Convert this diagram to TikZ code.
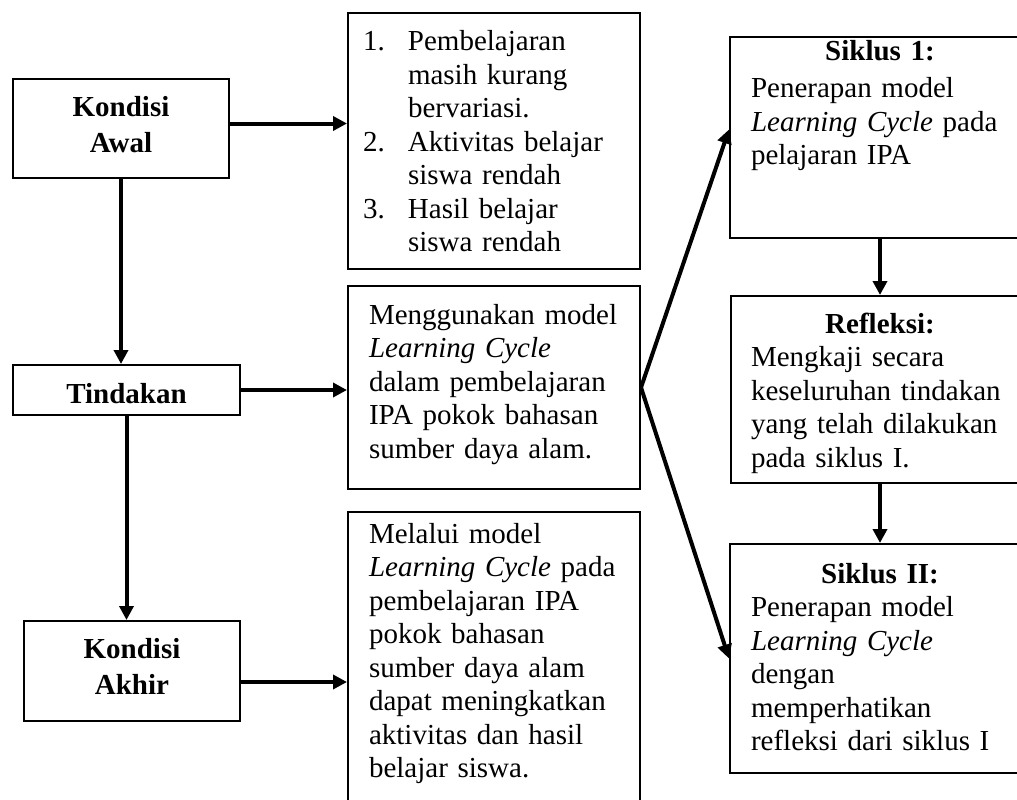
\documentclass[tikz,border=0pt]{standalone}
\usepackage{fontspec}
\setmainfont{Liberation Serif}
\usetikzlibrary{arrows.meta}

\begin{document}
\begin{tikzpicture}[x=1pt,y=-1pt,
    kotak/.style={draw, line width=2pt, anchor=north west, inner xsep=21pt, inner ysep=0pt,
      align=left, font=\fontsize{29}{33.5}\selectfont},
    judul/.style={kotak, inner xsep=0pt, align=center, font=\fontsize{29}{36}\selectfont\bfseries},
    panah/.style={line width=4pt, -{Triangle[length=14pt,width=14pt]}}]
  \useasboundingbox (0,0) rectangle (1017,800);
  \clip (0,0) rectangle (1017,800);
  % kolom kiri
  \node[judul, text width=216pt, text height=37pt, text depth=62pt] (awal) at (12,78) {Kondisi\\Awal};
  \node[judul, text width=227pt, text height=38pt, text depth=12pt] (tindakan) at (12,364) {Tindakan};
  \node[judul, text width=216pt, text height=37pt, text depth=63pt] (akhir) at (23,620) {Kondisi\\Akhir};
  % kolom tengah
  \node[kotak, inner xsep=15pt, text width=262pt, text height=38pt, text depth=218pt] (masalah) at (347,12)
    {\makebox[45pt][l]{1.}Pembelajaran\\\hspace*{45pt}masih kurang\\\hspace*{45pt}bervariasi.\\
     \makebox[45pt][l]{2.}Aktivitas belajar\\\hspace*{45pt}siswa rendah\\
     \makebox[45pt][l]{3.}Hasil belajar\\\hspace*{45pt}siswa rendah};
  \node[kotak, text width=250pt, text height=38pt, text depth=165pt] (model) at (347,285)
    {\mbox{Menggunakan model}\\\textit{Learning Cycle}\\\mbox{dalam pembelajaran}\\IPA pokok bahasan\\sumber daya alam.};
  \node[kotak, text width=250pt, text height=31pt, text depth=299pt] (hasil) at (347,511)
    {Melalui model\\\mbox{\textit{Learning Cycle} pada}\\pembelajaran IPA\\pokok bahasan\\sumber daya alam\\
     \mbox{dapat meningkatkan}\\\mbox{aktivitas dan hasil}\\belajar siswa.};
  % kolom kanan
  \node[kotak, text width=258pt, text height=23pt, text depth=178pt] (siklus1) at (729,36)
    {\makebox[258pt]{\bfseries Siklus 1:}\\[4pt]Penerapan model\\\textit{Learning Cycle} pada\\pelajaran IPA};
  \node[kotak, inner xsep=20pt, text width=258pt, text height=37pt, text depth=150pt] (refleksi) at (730,295)
    {\makebox[258pt]{\bfseries Refleksi:}\\Mengkaji secara\\keseluruhan tindakan\\yang telah dilakukan\\pada siklus I.};
  \node[kotak, text width=258pt, text height=39pt, text depth=190pt] (siklus2) at (729,543)
    {\makebox[258pt]{\bfseries Siklus II:}\\Penerapan model\\\textit{Learning Cycle}\\dengan\\memperhatikan\\refleksi dari siklus I};
  % panah
  \draw[panah] (awal.south) -- (awal.south |- tindakan.north);
  \draw[panah] (tindakan.south) -- (tindakan.south |- akhir.north);
  \draw[panah] ([yshift=5pt]awal.east) -- ([yshift=5pt]awal.east -| masalah.west);
  \draw[panah] (tindakan.east) -- (tindakan.east -| model.west);
  \draw[panah] ([yshift=-11pt]akhir.east) -- ([yshift=-11pt]akhir.east -| hasil.west);
  \draw[panah] (model.east) -- ([yshift=8pt]siklus1.west);
  \draw[panah] (model.east) -- (siklus2.west);
  \draw[panah] (siklus1.south) -- (refleksi.north);
  \draw[panah] (refleksi.south) -- (siklus2.north);
\end{tikzpicture}
\end{document}
